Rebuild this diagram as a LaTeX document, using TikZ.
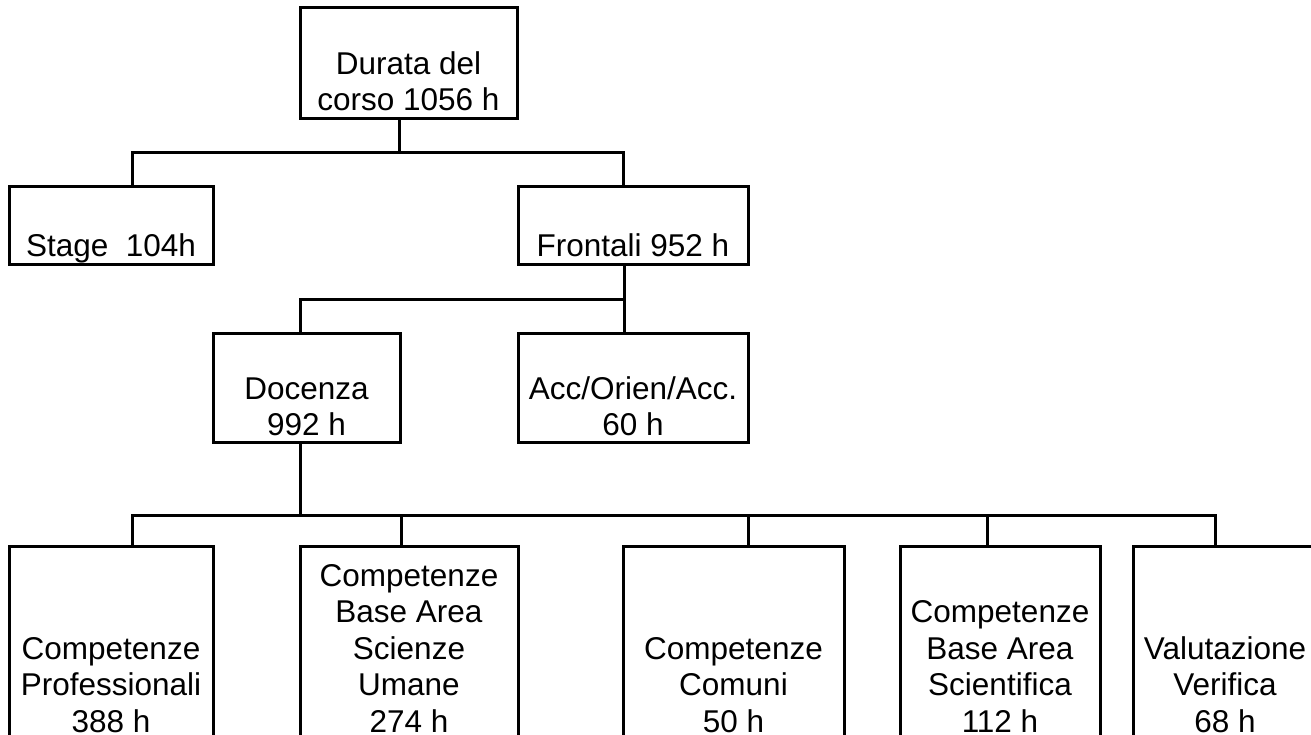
\documentclass[tikz,border=0pt]{standalone}
\usepackage{fontspec}
\setmainfont{Liberation Sans}
\newcommand{\boxtxt}[4]{\parbox[c][#2pt][b]{#1pt}{\centering #4\rule[-#3pt]{0pt}{#3pt}}}
\begin{document}
\begin{tikzpicture}[x=1pt,y=-1pt,
  boxy/.style={draw, line width=3pt, inner sep=0pt, outer sep=0pt,
    font=\fontsize{31.5}{36.5}\selectfont},
  conn/.style={draw, line width=3pt, line join=miter}]
\useasboundingbox (0,0) rectangle (1311,735);
\clip (0,0) rectangle (1311,735);
% boxes
\node[boxy] (top) at (408.5,63.5) {\boxtxt{217}{103}{8}{Durata del\\corso 1056 h}};
\node[boxy] (stage) at (111,226) {\boxtxt{204}{70}{8}{Stage~~104h}};
\node[boxy] (front) at (633,226) {\boxtxt{230}{70}{8}{Frontali 952 h}};
\node[boxy] (doc) at (306.5,388) {\boxtxt{187}{102}{7}{Docenza\\992 h}};
\node[boxy] (acc) at (633,388) {\boxtxt{230}{102}{7}{Acc/Orien/Acc.\\60 h}};
\node[boxy] (b1) at (111,646) {\boxtxt{204}{186}{14}{Competenze\\Professionali\\388 h}};
\node[boxy] (b2) at (409,646) {\boxtxt{218}{186}{14}{Competenze\\Base Area\\Scienze\\Umane\\274 h}};
\node[boxy] (b3) at (733.5,646) {\boxtxt{221}{186}{14}{Competenze\\Comuni\\50 h}};
\node[boxy] (b4) at (1000,646) {\boxtxt{200}{186}{14}{Competenze\\Base Area\\Scientifica\\112 h}};
\node[boxy] (b5) at (1225,646) {\boxtxt{184}{186}{14}{Valutazione\\Verifica\\68 h}};
% junction coordinates
\coordinate (j1) at (399,153);
\coordinate (h1a) at (132,153);
\coordinate (h1b) at (623,153);
\coordinate (h2a) at (300,299);
\coordinate (h2b) at (624,299);
\coordinate (j3) at (300,515);
\coordinate (h3a) at (132,515);
\coordinate (h3b) at (401,515);
\coordinate (h3c) at (748,515);
\coordinate (h3d) at (987,515);
\coordinate (h3e) at (1215,515);
% connectors
\draw[conn] (top.south -| j1) -- (j1);
\draw[conn] (stage.north -| h1a) -- (h1a) -- (h1b) -- (front.north -| h1b);
\draw[conn] (front.south -| h2b) -- (h2b);
\draw[conn] (doc.north -| h2a) -- (h2a) -- (h2b) -- (acc.north -| h2b);
\draw[conn] (doc.south -| j3) -- (j3);
\draw[conn] (b1.north -| h3a) -- (h3a) -- (h3e) -- (b5.north -| h3e);
\draw[conn] (h3b) -- (b2.north -| h3b);
\draw[conn] (h3c) -- (b3.north -| h3c);
\draw[conn] (h3d) -- (b4.north -| h3d);
\end{tikzpicture}
\end{document}
